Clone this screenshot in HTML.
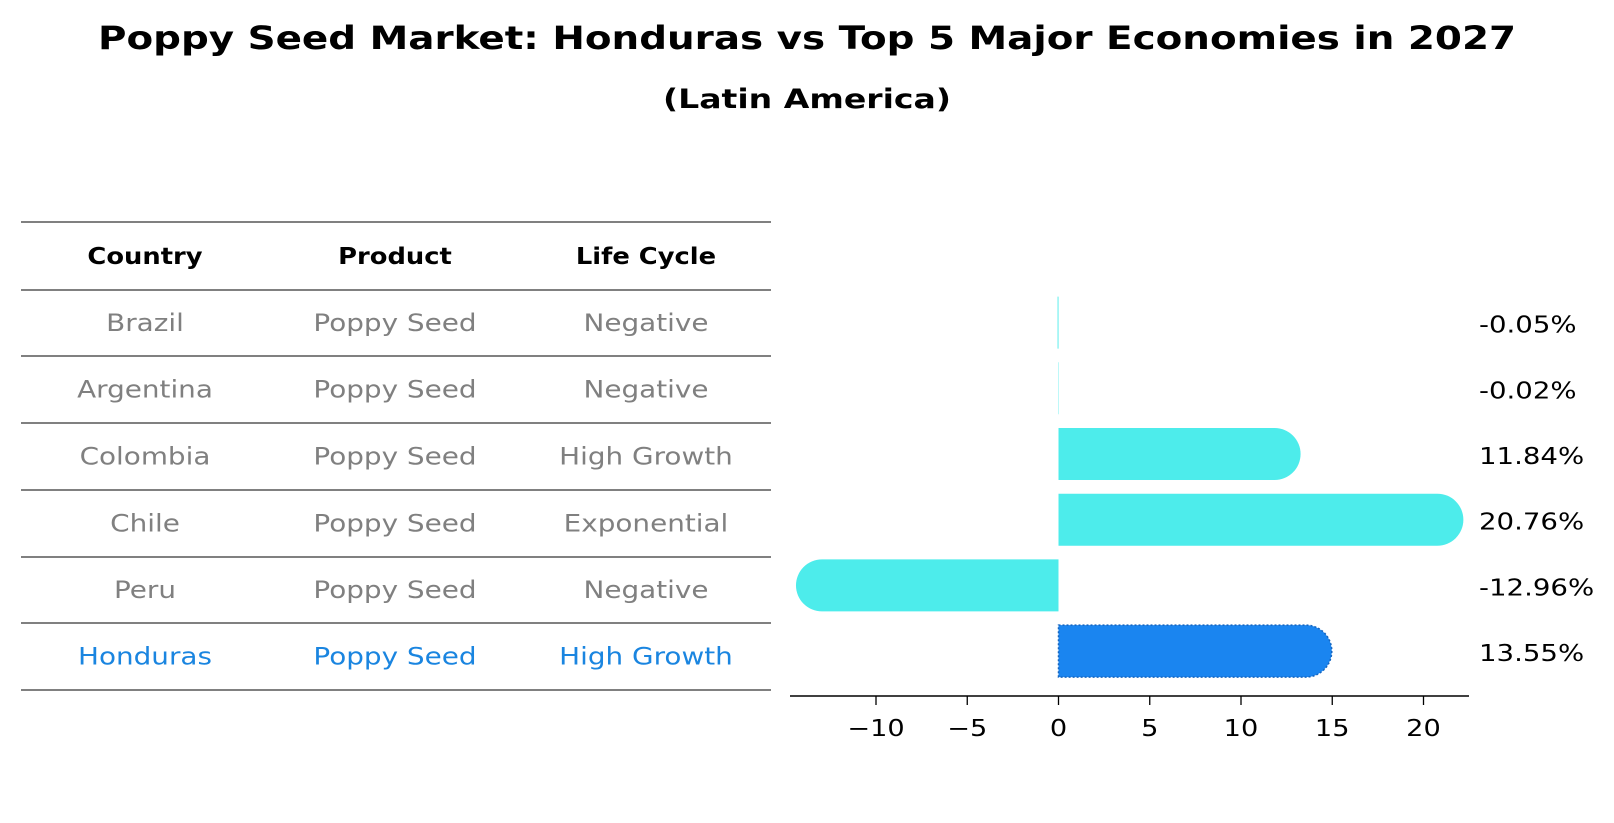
<!DOCTYPE html>
<html><head><meta charset="utf-8"><style>
body{margin:0;background:#fff}
svg{display:block;font-family:"DejaVu Sans","Liberation Sans",sans-serif}
</style></head><body>
<svg id="chart" width="1614" height="823" viewBox="0 0 1614 823" xmlns="http://www.w3.org/2000/svg">
<text x="807" y="49" text-anchor="middle" font-size="32" font-weight="bold" textLength="1418" lengthAdjust="spacingAndGlyphs">Poppy Seed Market: Honduras vs Top 5 Major Economies in 2027</text>
<text x="807" y="108" text-anchor="middle" font-size="27" font-weight="bold" textLength="288" lengthAdjust="spacingAndGlyphs">(Latin America)</text>
<g id="table"></g>
<g id="bars"></g>
</svg>
<script>
const countries = ["Brazil","Argentina","Colombia","Chile","Peru","Honduras"];
const products = ["Poppy Seed","Poppy Seed","Poppy Seed","Poppy Seed","Poppy Seed","Poppy Seed"];
const lifeCycles = ["Negative","Negative","High Growth","Exponential","Negative","High Growth"];
const growth = [-0.05,-0.02,11.84,20.76,-12.96,13.55];
const growthLabels = ["-0.05%","-0.02%","11.84%","20.76%","-12.96%","13.55%"];
const xTicks = [-10,-5,0,5,10,15,20];
const xTickLabels = ["\u221210","\u22125","0","5","10","15","20"];
const highlight = "Honduras";

const NS="http://www.w3.org/2000/svg";
function mk(tag, attrs, parent){const e=document.createElementNS(NS,tag);for(const k in attrs)e.setAttribute(k,attrs[k]);parent.appendChild(e);return e;}
function widen(t,f){const L=t.getComputedTextLength();if(L>0){t.setAttribute('textLength',(L*f).toFixed(1));t.setAttribute('lengthAdjust','spacingAndGlyphs');}}

// table
const tbl=document.getElementById('table');
const lineYs=[222,290,356,423,490,557,623,690];
lineYs.forEach((y,i)=>{
  const l=mk('line',{x1:21,x2:771,y1:y,y2:y,stroke:'#000','stroke-width':1},tbl);
  
  
});
const colX=[145,395,646];
["Country","Product","Life Cycle"].forEach((h,i)=>{
  const t=mk('text',{x:colX[i],y:(lineYs[0]+lineYs[1])/2+8,'text-anchor':'middle','font-size':23,'font-weight':'bold'},tbl);
  t.textContent=h;
  
  
  widen(t,1.12);
});
countries.forEach((c,r)=>{
  const cy=(lineYs[r+1]+lineYs[r+2])/2+8;
  const col=c===highlight?'#1a85e0':'#808080';
  [c,products[r],lifeCycles[r]].forEach((v,i)=>{
    const t=mk('text',{x:colX[i],y:cy,'text-anchor':'middle','font-size':24,fill:col},tbl);
    t.textContent=v;
    
    
    widen(t,1.16);
  });
});

// bar chart
const g=document.getElementById('bars');
const x0=1058.5, scale=18.25;
const xs=v=>x0+v*scale;
const yTop=322.6, step=65.7, barH=52, r=26;
const ys=i=>yTop+i*step;
const axisY=696;
const ax=mk('line',{x1:790,x2:1469,y1:axisY,y2:axisY,stroke:'#000','stroke-width':1.5},g);


xTicks.forEach((t,i)=>{
  const tl=mk('line',{x1:xs(t),x2:xs(t),y1:axisY,y2:axisY+9,stroke:'#000','stroke-width':1.3},g);
  
  
  const tx=mk('text',{x:xs(t),y:axisY+40,'text-anchor':'middle','font-size':23},g);
  tx.textContent=xTickLabels[i];
  
  
  widen(tx,1.18);
});
growth.forEach((v,i)=>{
  const cy=ys(i), top=cy-barH/2, bot=cy+barH/2;
  const xe=xs(v), w=Math.abs(xe-x0);
  const isH=countries[i]===highlight;
  const fill=isH?'#1a85f0':'#4deceb';
  let d;
  if(w<2){
    const a=Math.min(x0,xe);
    d=`M${a},${top}H${a+w}V${bot}H${a}Z`;
  } else if(v>0){
    d=`M${x0},${top}H${xe}A${r},${r} 0 0 1 ${xe},${bot}H${x0}Z`;
  } else {
    d=`M${x0},${top}H${xe}A${r},${r} 0 0 0 ${xe},${bot}H${x0}Z`;
  }
  const p=mk('path',{d:d,fill:fill},g);
  if(isH){p.setAttribute('stroke','#1565c0');p.setAttribute('stroke-width','1.5');p.setAttribute('stroke-dasharray','2 2');}
  
  
  const lb=mk('text',{x:1479,y:cy+10,'font-size':23},g);
  lb.textContent=growthLabels[i];
  
  
  widen(lb,1.2);
});
</script>
</body></html>
